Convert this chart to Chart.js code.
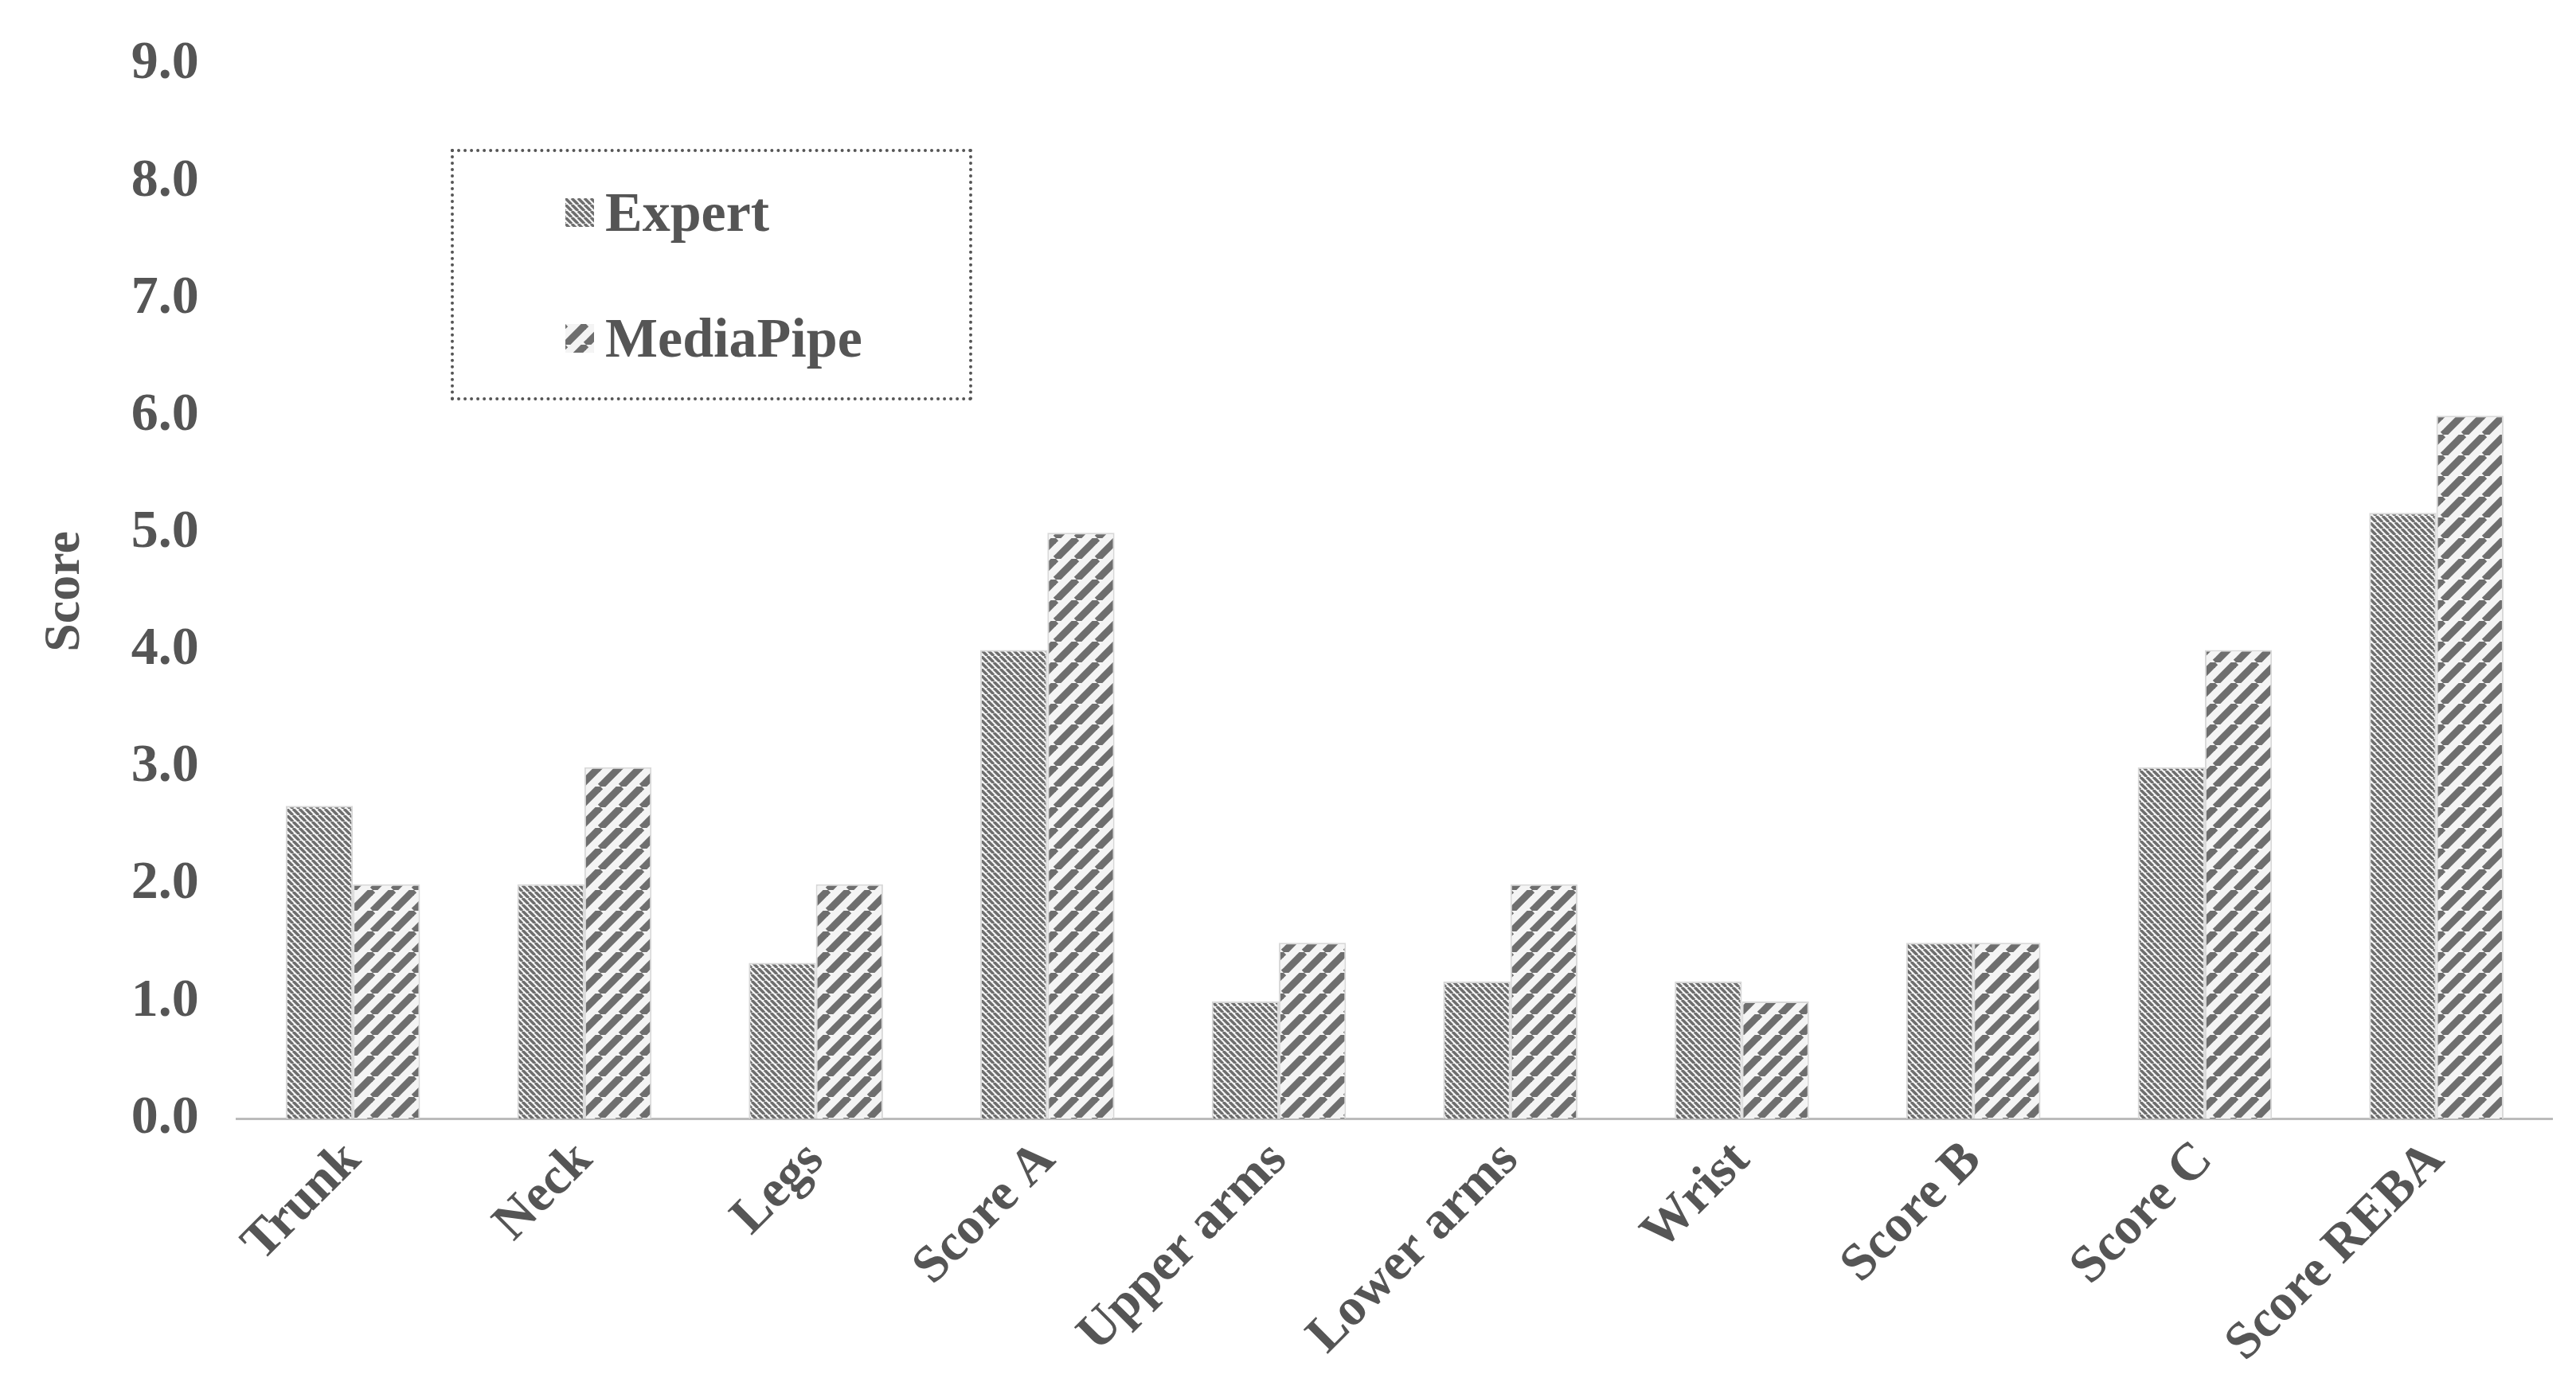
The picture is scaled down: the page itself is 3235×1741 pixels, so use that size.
<!DOCTYPE html>
<html>
<head>
<meta charset="utf-8">
<script src="https://cdn.jsdelivr.net/npm/chart.js@4"></script>
<style>
  body { margin: 0; background: #fff; }
  #wrap { position: relative; width: 3235px; height: 1741px; }
  #legend {
    position: absolute; left: 566px; top: 187px; width: 655px; height: 316px;
    border: 4px dotted #555; box-sizing: border-box;
    font-family: "Liberation Serif", serif; font-weight: bold; font-size: 70px; color: #555;
  }
  .item { position: absolute; left: 140px; display: flex; align-items: center; }
  .item canvas { width: 36px; height: 36px; margin-right: 14px; }
</style>
</head>
<body>
<div id="wrap">
  <canvas id="grafikoa"></canvas>
  <div id="legend">
    <div class="item" style="top:36px"><canvas id="sw1" width="36" height="36"></canvas>Expert</div>
    <div class="item" style="top:194px"><canvas id="sw2" width="36" height="36"></canvas>MediaPipe</div>
  </div>
</div>
<script>
const categories = ['Trunk', 'Neck', 'Legs', 'Score A', 'Upper arms', 'Lower arms', 'Wrist', 'Score B', 'Score C', 'Score REBA'];
const expert = [2.67, 2, 1.33, 4, 1, 1.17, 1.17, 1.5, 3, 5.17];
const mediapipe = [2, 3, 2, 5, 1.5, 2, 1, 1.5, 4, 6];

// hatch patterns
function hatch(period, width, forward) {
  const c = document.createElement('canvas');
  c.width = period; c.height = period;
  const g = c.getContext('2d');
  g.fillStyle = '#f4f4f4';
  g.fillRect(0, 0, period, period);
  g.strokeStyle = '#6e6e6e';
  g.lineWidth = width;
  for (let k = -1; k <= 1; k++) {
    g.beginPath();
    if (forward) { g.moveTo(k * period, period); g.lineTo(k * period + period, 0); }
    else { g.moveTo(k * period, 0); g.lineTo(k * period + period, period); }
    g.stroke();
  }
  return g.createPattern(c, 'repeat');
}
const expertFill = hatch(8, 3.5, false);
const mpFill = hatch(26, 9, true);

function swatch(id, fill) {
  const g = document.getElementById(id).getContext('2d');
  g.fillStyle = fill; g.fillRect(0, 0, 36, 36);
}
swatch('sw1', expertFill);
swatch('sw2', mpFill);

Chart.defaults.font.family = '"Liberation Serif", serif';
Chart.defaults.font.weight = 'bold';
Chart.defaults.color = '#555';

const data = {
  labels: categories,
  datasets: [
    { label: 'Expert', data: expert, backgroundColor: expertFill, borderColor: '#d8d8d8', borderWidth: 2 },
    { label: 'MediaPipe', data: mediapipe, backgroundColor: mpFill, borderColor: '#d8d8d8', borderWidth: 2 }
  ]
};

const config = {
  type: 'bar',
  data: data,
  options: {
    responsive: true,
    maintainAspectRatio: false,
    animation: false,
    layout: { padding: { top: 20, right: 30, left: 40 } },
    datasets: { bar: { barPercentage: 1, categoryPercentage: 0.58 } },
    plugins: { legend: { display: false }, tooltip: { enabled: false } },
    scales: {
      x: {
        grid: { display: false, drawTicks: false },
        border: { color: '#bbb', width: 3 },
        ticks: { font: { size: 66 }, maxRotation: 45, minRotation: 45, padding: 14 }
      },
      y: {
        min: 0, max: 9,
        grid: { display: false },
        border: { display: false },
        ticks: { stepSize: 1, font: { size: 68 }, padding: 40, callback: v => v.toFixed(1) },
        title: { display: true, text: 'Score', font: { size: 64 } }
      }
    }
  }
};

const ctx = document.getElementById('grafikoa').getContext('2d');
new Chart(ctx, config);
</script>
</body>
</html>
